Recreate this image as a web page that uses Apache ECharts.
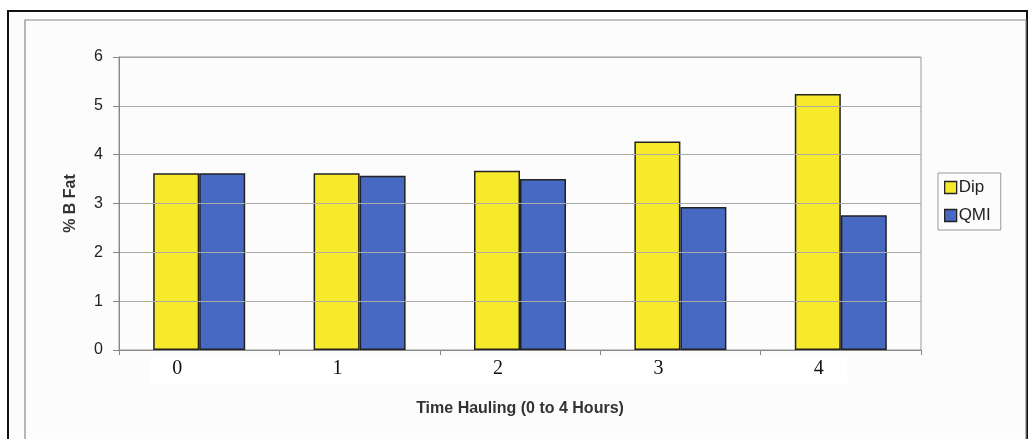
<!DOCTYPE html>
<html>
<head>
<meta charset="utf-8">
<script src="https://cdn.jsdelivr.net/npm/echarts@6/dist/echarts.min.js"></script>
<style>
html,body{margin:0;padding:0;background:#ffffff;}
#main{width:1035px;height:439px;}
</style>
</head>
<body>
<div id="main"></div>
<script>
const categories = ['0', '1', '2', '3', '4'];
const dipValues = [3.62, 3.62, 3.67, 4.27, 5.24];
const qmiValues = [3.62, 3.57, 3.50, 2.93, 2.76];
const seriesNames = ['Dip', 'QMI'];
const yTicks = { min: 0, max: 6, interval: 1 };

const chart = echarts.init(document.getElementById('main'));
chart.setOption({
  backgroundColor: '#ffffff',
  animation: false,
  graphic: [
    { type: 'rect', z: 0, silent: true, shape: { x: 8, y: 11, width: 1019, height: 440 },
      style: { fill: '#fcfcfc', stroke: '#111', lineWidth: 2 } },
    { type: 'rect', z: 0, silent: true, shape: { x: 25, y: 20, width: 1001, height: 430 },
      style: { fill: 'none', stroke: '#888', lineWidth: 1.2 } },
    { type: 'rect', z: 0, silent: true, shape: { x: 150, y: 357, width: 697, height: 26 },
      style: { fill: '#ffffff' } }
  ],
  grid: { left: 119, top: 57, right: 114, bottom: 89, show: true, borderColor: '#999', borderWidth: 1, z: 2 },
  legend: {
    orient: 'vertical', left: 938, top: 173, z: 5,
    data: seriesNames,
    icon: 'rect', itemWidth: 12, itemHeight: 12, itemGap: 11,
    padding: [6, 10, 6, 6],
    borderColor: '#999', borderWidth: 1, backgroundColor: '#fcfcfc',
    textStyle: { fontFamily: 'Liberation Sans, Arial', fontSize: 17, color: '#222', padding: [0, 0, 0, -3] },
    itemStyle: { borderColor: '#222', borderWidth: 1.3 }
  },
  xAxis: {
    type: 'category', data: categories, z: 6,
    name: 'Time Hauling (0 to 4 Hours)', nameLocation: 'middle', nameGap: 51,
    nameTextStyle: { fontFamily: 'Liberation Sans, Arial', fontWeight: 'bold', fontSize: 16, color: '#333' },
    axisLine: { lineStyle: { color: '#888', width: 1 } },
    axisTick: { show: true, length: 5, lineStyle: { color: '#888' } },
    axisLabel: { margin: 9, fontFamily: 'Liberation Serif, DejaVu Serif, serif', fontSize: 20, color: '#111', padding: [0, 44, 0, 0] }
  },
  yAxis: {
    type: 'value', min: yTicks.min, max: yTicks.max, interval: yTicks.interval, z: 6,
    name: '% B Fat', nameLocation: 'middle', nameGap: 40,
    nameTextStyle: { fontFamily: 'Liberation Sans, Arial', fontWeight: 'bold', fontSize: 16, color: '#333' },
    axisLine: { show: true, lineStyle: { color: '#888', width: 1 } },
    axisTick: { show: true, inside: false, length: 6, lineStyle: { color: '#888' } },
    axisLabel: { margin: 16, fontFamily: 'Liberation Sans, Arial', fontSize: 16, color: '#222' },
    splitLine: { show: true, lineStyle: { color: '#aaa', width: 1 } }
  },
  series: [
    { name: seriesNames[0], type: 'bar', data: dipValues, barWidth: 46, barGap: '0%', z: 4,
      itemStyle: { color: '#f7ea2c', borderColor: '#222', borderWidth: 1.5 } },
    { name: seriesNames[1], type: 'bar', data: qmiValues, barWidth: 46, barGap: '0%', z: 4,
      itemStyle: { color: '#4869c2', borderColor: '#222', borderWidth: 1.5 } }
  ]
});
</script>
</body>
</html>
